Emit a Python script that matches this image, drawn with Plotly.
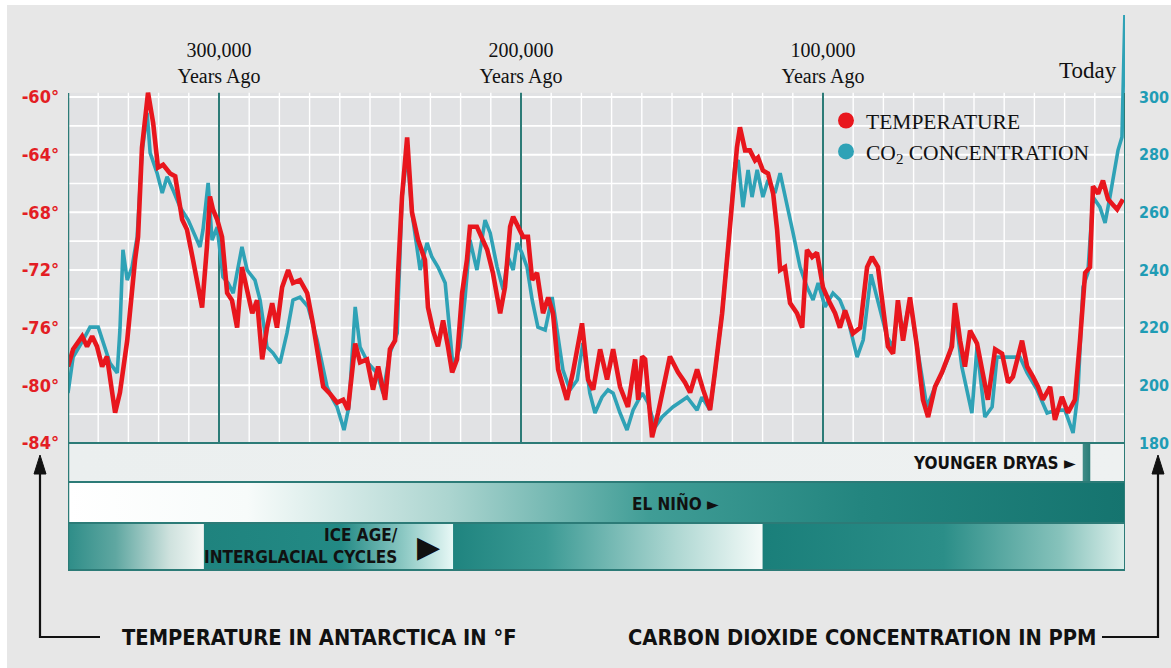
import plotly.graph_objects as go

# ---------------- data ----------------
temp_years_ago = [350.0, 348.3, 345.3, 343.7, 342.0, 340.4, 338.7, 337.1, 334.4, 332.8,
                  330.4, 328.8, 327.8, 326.8, 325.5, 323.5, 321.8, 320.2, 318.5, 316.2,
                  314.5, 312.2, 310.6, 308.6, 305.6, 304.0, 303.0, 302.0, 300.6, 299.0,
                  297.3, 295.7, 294.0, 292.4, 290.7, 289.0, 287.4, 285.7, 284.1, 282.4,
                  280.8, 279.1, 277.1, 275.5, 273.2, 270.8, 268.9, 265.5, 263.2, 260.9,
                  258.9, 257.3, 254.9, 253.3, 251.0, 249.0, 247.3, 245.0, 243.4, 241.7,
                  240.7, 239.4, 237.7, 236.1, 234.1, 231.8, 230.8, 229.1, 227.5, 225.8,
                  224.2, 222.8, 221.2, 219.5, 217.9, 216.9, 214.6, 212.9, 211.2, 209.3,
                  206.9, 205.3, 203.6, 202.6, 201.0, 199.3, 197.7, 196.3, 194.7, 192.7,
                  191.0, 189.4, 187.7, 184.8, 182.8, 179.8, 177.8, 176.1, 173.8, 171.5,
                  169.5, 167.2, 164.6, 162.2, 161.2, 159.9, 158.9, 156.6, 154.6, 152.3,
                  150.7, 148.0, 145.7, 144.0, 141.7, 139.7, 137.4, 135.8, 133.4, 131.4,
                  129.8, 128.5, 127.5, 125.8, 124.2, 122.5, 121.5, 119.9, 118.2, 116.5,
                  115.2, 114.2, 112.6, 110.9, 108.6, 106.9, 105.3, 103.6, 102.0, 100.0,
                  97.7, 96.0, 94.4, 92.7, 90.1, 87.7, 85.4, 83.8, 81.8, 80.1,
                  78.5, 76.8, 75.2, 73.5, 71.2, 68.9, 66.9, 65.2, 62.9, 60.6,
                  58.6, 57.3, 56.3, 54.6, 53.0, 51.3, 49.0, 47.3, 45.4, 43.0,
                  40.7, 38.7, 37.1, 34.1, 32.4, 30.5, 28.8, 27.2, 24.8, 23.2,
                  20.9, 18.9, 16.6, 14.9, 13.2, 11.6, 10.6, 8.9, 7.3, 5.6,
                  2.6, 0.7]
temp_f = [-78.7, -77.5, -76.6, -77.3, -76.6, -77.3, -78.7, -78.0, -81.9, -80.5,
          -76.9, -73.2, -71.3, -69.7, -63.5, -59.7, -61.8, -64.9, -64.7, -65.3,
          -65.5, -68.5, -69.2, -71.3, -74.6, -70.4, -66.9, -67.8, -68.5, -69.7,
          -73.6, -74.1, -76.0, -71.8, -73.6, -75.0, -74.1, -78.2, -76.0, -74.3,
          -76.0, -73.2, -72.0, -72.9, -72.7, -73.6, -75.7, -80.1, -80.6, -81.2,
          -81.0, -81.7, -77.1, -78.4, -78.2, -80.3, -78.7, -81.0, -77.5, -76.9,
          -72.2, -66.9, -62.8, -68.0, -69.9, -71.3, -74.6, -76.2, -77.3, -75.5,
          -77.3, -79.1, -78.2, -73.6, -71.3, -69.0, -69.0, -69.9, -70.6, -72.2,
          -75.0, -73.2, -69.0, -68.3, -69.0, -69.7, -69.7, -72.7, -72.2, -75.0,
          -73.9, -75.0, -78.9, -81.0, -79.1, -75.7, -79.6, -80.3, -77.5, -79.6,
          -77.5, -80.1, -81.5, -78.2, -81.0, -78.0, -78.2, -83.6, -81.9, -79.6,
          -78.0, -79.1, -79.8, -80.5, -78.9, -80.3, -81.7, -79.1, -75.0, -70.4,
          -66.2, -63.5, -62.1, -63.7, -63.7, -64.4, -64.2, -65.1, -65.3, -66.7,
          -69.2, -72.0, -71.8, -74.3, -75.0, -76.0, -70.6, -71.1, -70.8, -73.2,
          -74.3, -75.0, -76.0, -74.8, -76.4, -76.0, -71.8, -71.1, -71.8, -74.6,
          -77.3, -77.8, -74.1, -76.9, -73.9, -77.3, -81.0, -82.2, -80.1, -79.1,
          -78.0, -77.3, -74.3, -76.9, -78.7, -76.2, -77.1, -79.1, -81.0, -77.5,
          -77.8, -79.8, -79.4, -76.9, -78.7, -79.4, -80.1, -81.0, -80.1, -82.4,
          -80.8, -81.9, -81.0, -76.9, -72.2, -71.8, -66.2, -66.7, -65.8, -67.1,
          -67.8, -67.1]

co2_years_ago = [350.0, 348.3, 345.0, 342.7, 340.0, 338.4, 336.1, 333.7, 332.8, 331.8,
                 330.4, 328.8, 327.1, 325.5, 323.8, 322.8, 320.5, 318.8, 317.2, 315.2,
                 312.9, 310.2, 307.9, 306.3, 305.3, 303.6, 302.3, 300.6, 298.7, 297.0,
                 295.3, 292.4, 290.7, 288.1, 286.4, 284.1, 282.1, 279.8, 277.5, 275.5,
                 273.2, 270.5, 267.5, 264.2, 262.2, 260.9, 258.6, 257.0, 254.9, 253.3,
                 250.6, 247.7, 245.7, 243.4, 241.0, 239.4, 237.7, 236.1, 233.4, 231.1,
                 229.5, 227.5, 225.1, 224.2, 222.5, 220.2, 218.5, 216.9, 214.6, 211.9,
                 210.2, 207.9, 205.9, 204.3, 202.6, 201.3, 199.7, 198.0, 196.3, 194.4,
                 192.0, 189.7, 188.1, 186.1, 183.8, 181.4, 179.5, 177.2, 175.5, 173.2,
                 171.2, 169.5, 167.2, 164.9, 162.9, 159.9, 157.9, 155.6, 153.3, 149.7,
                 145.0, 141.7, 140.1, 137.4, 135.8, 133.4, 131.4, 129.1, 128.1, 126.5,
                 124.8, 123.5, 121.8, 119.9, 118.2, 115.9, 114.2, 111.9, 109.9, 107.6,
                 105.3, 103.3, 101.6, 99.3, 96.7, 94.4, 91.7, 88.7, 86.7, 84.1,
                 82.1, 78.8, 76.8, 75.2, 73.5, 71.2, 68.5, 65.6, 62.9, 60.6,
                 57.9, 56.3, 54.0, 50.7, 49.0, 46.4, 44.0, 42.4, 39.7, 34.8,
                 32.4, 29.1, 25.8, 22.5, 19.9, 17.2, 15.6, 13.9, 12.3, 10.6,
                 8.3, 6.6, 5.0, 2.3, 1.0, 0.0]
co2_ppm = [197.3, 209.8, 215.7, 220.2, 220.2, 214.7, 207.7, 204.3, 219.2, 247.0,
           236.5, 241.0, 251.4, 280.6, 294.5, 280.6, 273.6, 266.7, 272.3, 267.7,
           261.8, 257.3, 251.4, 248.0, 253.9, 270.2, 250.4, 254.9, 237.6, 235.5,
           232.0, 248.0, 240.0, 236.5, 229.6, 213.3, 211.2, 207.7, 218.1, 229.6,
           230.6, 227.2, 215.7, 199.4, 194.9, 192.5, 184.5, 192.5, 227.2, 213.3,
           207.7, 204.3, 197.3, 211.2, 218.1, 265.3, 280.6, 259.8, 240.0, 249.4,
           244.5, 241.0, 235.5, 225.1, 206.3, 213.3, 230.6, 250.4, 240.0, 257.3,
           252.8, 241.0, 233.1, 244.5, 240.0, 249.4, 245.9, 241.0, 229.6, 220.2,
           219.2, 230.6, 219.2, 205.3, 198.4, 201.8, 214.7, 197.3, 190.4, 195.9,
           198.4, 197.3, 190.4, 184.5, 191.4, 197.3, 193.9, 185.5, 189.0, 192.5,
           195.9, 191.4, 195.9, 191.4, 204.3, 225.1, 248.0, 277.1, 278.1, 261.8,
           274.7, 265.3, 274.7, 265.3, 271.2, 266.7, 273.6, 263.2, 252.8, 241.0,
           234.1, 229.6, 235.5, 227.2, 232.0, 229.6, 222.6, 209.8, 215.7, 238.5,
           230.0, 216.8, 213.3, 227.2, 218.1, 229.6, 211.2, 192.5, 199.4, 204.3,
           211.2, 225.1, 206.3, 190.4, 213.3, 189.0, 192.5, 209.8, 209.8, 209.8,
           204.3, 198.4, 190.4, 191.4, 191.4, 183.5, 197.3, 234.1, 239.0, 265.3,
           261.8, 256.3, 265.3, 281.6, 286.1, 330.0]

x_tick_years = [300000, 200000, 100000]
x_tick_text = ["300,000<br>Years Ago", "200,000<br>Years Ago", "100,000<br>Years Ago"]
temp_ticks = [-60, -64, -68, -72, -76, -80, -84]
co2_ticks = [180, 200, 220, 240, 260, 280, 300]

ice_age_bounds = [350000, 305000, 222500, 120000, 0]   # years ago
younger_dryas_span = [14000, 11500]                      # years ago

# ---------------- layout constants ----------------
W, H = 1171, 668
ML, MR, MT, MB = 68, 46, 15, 98
PX0, PX1, PY0, PY1 = ML, W - MR, MT, H - MB          # plot area in px
BAND_TOP_PX = 443
band_frac = (PY1 - BAND_TOP_PX) / (PY1 - PY0)
px_per_deg = (443 - 97) / 24.0
temp_top = -84 + (BAND_TOP_PX - PY0) / px_per_deg
PPM_PER_DEG = 5.0
co2_range = [180, 180 + (temp_top + 84) * PPM_PER_DEG]
panel_top_ppm = 301.5

def t2c(t):
    return 180 + (t + 84) * PPM_PER_DEG

def xp(px):
    return (px - PX0) / (PX1 - PX0)

def yp(py):
    return (PY1 - py) / (PY1 - PY0)

RED = "#e8161d"
TEAL = "#2fa2b6"
DARK = "#2c7b77"
NARROW = "Liberation Sans Narrow, DejaVu Sans Condensed, Arial Narrow, Liberation Sans, sans-serif"
SERIF = "Liberation Serif, DejaVu Serif, serif"

x_years_temp = [v * 1000 for v in temp_years_ago]
x_years_co2 = [v * 1000 for v in co2_years_ago]

fig = go.Figure()

# ---------------- bands (timeline) ----------------
def band(x0, x1, y0, y1, cs):
    return go.Scatter(x=[x0, x1, x1, x0, x0], y=[y0, y0, y1, y1, y0], xaxis="x", yaxis="y3",
                      mode="lines", line=dict(width=0), fill="toself",
                      fillgradient=dict(type="horizontal", colorscale=cs, start=x0, stop=x1),
                      hoverinfo="skip", showlegend=False)

ice_scales = [
    [[0, "#2e8d88"], [0.35, "#5fa7a1"], [0.75, "#cfe2de"], [1, "#f4f8f6"]],
    [[0, "#1f837e"], [0.55, "#238a85"], [0.82, "#94cdc8"], [1, "#e8f8f6"]],
    [[0, "#1f847f"], [0.3, "#3b9a94"], [0.72, "#aed7d2"], [1, "#f5fbf9"]],
    [[0, "#1a7f7a"], [0.5, "#2b8e88"], [0.82, "#86c2bb"], [1, "#dcefeb"]],
]
for i in range(4):
    fig.add_trace(band(ice_age_bounds[i], ice_age_bounds[i + 1], 0, 47, ice_scales[i]))
fig.add_trace(band(350000, 0, 48, 88,
                   [[0, "#ffffff"], [0.17, "#f7fbfa"], [0.36, "#acd5d0"], [0.55, "#409d96"],
                    [0.75, "#23857f"], [1, "#15746f"]]))
fig.add_trace(band(350000, 0, 88, 127, [[0, "#ebefef"], [1, "#eef1f1"]]))
fig.add_trace(band(younger_dryas_span[0], younger_dryas_span[1], 88, 127,
                   [[0, "#3f8c87"], [1, "#2a7c77"]]))

# ---------------- series ----------------
fig.add_trace(go.Scatter(x=x_years_co2, y=co2_ppm, yaxis="y", xaxis="x", mode="lines",
                         line=dict(color=TEAL, width=3.6), name="CO2", showlegend=False,
                         hovertemplate="%{x} yrs ago: %{y} ppm<extra></extra>"))
fig.add_trace(go.Scatter(x=x_years_temp, y=temp_f, yaxis="y2", xaxis="x", mode="lines",
                         line=dict(color=RED, width=4.6), name="Temperature", showlegend=False,
                         hovertemplate="%{x} yrs ago: %{y}°F<extra></extra>"))
# legend entries
fig.add_trace(go.Scatter(x=[None], y=[None], yaxis="y", mode="markers",
                         marker=dict(color=RED, size=17), name="TEMPERATURE"))
fig.add_trace(go.Scatter(x=[None], y=[None], yaxis="y", mode="markers",
                         marker=dict(color=TEAL, size=17), name="CO<sub>2</sub> CONCENTRATION"))

# ---------------- shapes: panel, grid, frame ----------------
shapes = []
shapes.append(dict(type="rect", xref="x", yref="y", x0=350000, x1=0, y0=180, y1=panel_top_ppm,
                   fillcolor="#e1e2e4", line=dict(width=0), layer="below"))
for t in range(-82, -59, 2):
    shapes.append(dict(type="line", xref="x", yref="y", x0=350000, x1=0, y0=t2c(t), y1=t2c(t),
                       line=dict(color="#ffffff", width=2 if t % 4 == 0 else 1.6), layer="below"))
for yr in range(340000, 0, -10000):
    shapes.append(dict(type="line", xref="x", yref="y", x0=yr, x1=yr, y0=180, y1=panel_top_ppm,
                       line=dict(color="#ffffff", width=1.4), layer="below"))
for yr in x_tick_years:
    shapes.append(dict(type="line", xref="x", yref="y", x0=yr, x1=yr, y0=180, y1=panel_top_ppm,
                       line=dict(color=DARK, width=2), layer="below"))
# frame lines
shapes.append(dict(type="line", xref="x", yref="paper", x0=350000, x1=350000, y0=0, y1=yp(93),
                   line=dict(color=DARK, width=2.5)))
shapes.append(dict(type="line", xref="x", yref="paper", x0=0, x1=0, y0=0, y1=yp(93),
                   line=dict(color=DARK, width=2)))
for py in (443, 482, 523, 570):
    shapes.append(dict(type="line", xref="x", yref="paper", x0=350000, x1=0, y0=yp(py), y1=yp(py),
                       line=dict(color=DARK, width=2)))
# axis-name arrows (lines + heads)
shapes.append(dict(type="path", xref="paper", yref="paper",
                   path=f"M {xp(100)},{yp(637)} L {xp(40)},{yp(637)} L {xp(40)},{yp(468)}",
                   line=dict(color="#111", width=2.2)))
shapes.append(dict(type="path", xref="paper", yref="paper",
                   path=f"M {xp(1102)},{yp(637)} L {xp(1158)},{yp(637)} L {xp(1158)},{yp(468)}",
                   line=dict(color="#111", width=2.2)))
for axp in (40, 1158):
    shapes.append(dict(type="path", xref="paper", yref="paper",
                       path=(f"M {xp(axp)},{yp(455)} L {xp(axp - 6)},{yp(474)} "
                             f"L {xp(axp + 6)},{yp(474)} Z"),
                       fillcolor="#111", line=dict(color="#111", width=1)))
# white outer strips of the scan
shapes.append(dict(type="rect", xref="paper", yref="paper", x0=xp(0), x1=xp(W), y0=yp(5), y1=yp(0),
                   fillcolor="white", line=dict(width=0)))
shapes.append(dict(type="rect", xref="paper", yref="paper", x0=xp(0), x1=xp(7), y0=yp(H), y1=yp(0),
                   fillcolor="white", line=dict(width=0)))

# ---------------- annotations ----------------
ann = []
ann.append(dict(xref="paper", yref="paper", x=xp(1119), y=yp(70), text="Today", showarrow=False,
                xanchor="right", yanchor="middle", font=dict(family=SERIF, size=23, color="#111")))
ann.append(dict(xref="paper", yref="paper", x=xp(120), y=yp(637),
                text="<b>TEMPERATURE IN ANTARCTICA IN °F</b>", showarrow=False,
                xanchor="left", yanchor="middle", font=dict(family=NARROW, size=21.7, color="#111")))
ann.append(dict(xref="paper", yref="paper", x=xp(626), y=yp(637),
                text="<b>CARBON DIOXIDE CONCENTRATION IN PPM</b>", showarrow=False,
                xanchor="left", yanchor="middle", font=dict(family=NARROW, size=21.7, color="#111")))
ann.append(dict(xref="paper", yref="paper", x=xp(1078), y=yp(463),
                text="<b>YOUNGER DRYAS ►</b>", showarrow=False,
                xanchor="right", yanchor="middle", font=dict(family=NARROW, size=17, color="#111")))
ann.append(dict(xref="paper", yref="paper", x=xp(630), y=yp(503),
                text="<b>EL NIÑO ►</b>", showarrow=False,
                xanchor="left", yanchor="middle", font=dict(family=NARROW, size=17, color="#111")))
ann.append(dict(xref="paper", yref="paper", x=xp(400), y=yp(546),
                text="<b>ICE AGE/<br>INTERGLACIAL CYCLES</b>", showarrow=False, align="right",
                xanchor="right", yanchor="middle", font=dict(family=NARROW, size=17, color="#111")))
ann.append(dict(xref="paper", yref="paper", x=xp(428), y=yp(546), text="▶", showarrow=False,
                xanchor="center", yanchor="middle", font=dict(family="DejaVu Sans", size=30, color="#111")))

fig.update_layout(
    width=W, height=H,
    margin=dict(l=ML, r=MR, t=MT, b=MB, autoexpand=False),
    paper_bgcolor="#e7e7e7", plot_bgcolor="rgba(0,0,0,0)",
    showlegend=True,
    legend=dict(x=xp(826), y=yp(100), xanchor="left", yanchor="top",
                bgcolor="rgba(0,0,0,0)", font=dict(family=SERIF, size=21.5, color="#111"),
                itemwidth=30, tracegroupgap=0),
    xaxis=dict(range=[350000, 0], domain=[0, 1], anchor="free", position=yp(87), side="top",
               tickvals=x_tick_years, ticktext=x_tick_text, ticks="", showgrid=False,
               zeroline=False, showline=False, automargin=False,
               tickfont=dict(family=SERIF, size=20, color="#111")),
    yaxis=dict(range=co2_range, domain=[band_frac, 1], side="right", anchor="x",
               tickvals=co2_ticks, ticktext=[str(v) for v in co2_ticks], showgrid=False,
               zeroline=False, showline=False, ticks="", ticklabelstandoff=13, automargin=False,
               tickfont=dict(family=NARROW, size=16, color="#1f9cb5", weight="bold")),
    yaxis2=dict(range=[-84, temp_top], overlaying="y", side="left", anchor="x",
                tickvals=temp_ticks, ticktext=[f"{v}°" for v in temp_ticks], showgrid=False,
                zeroline=False, showline=False, ticks="", ticklabelstandoff=8, automargin=False,
                tickfont=dict(family=NARROW, size=18, color="#e31e24", weight="bold")),
    yaxis3=dict(range=[0, 127], domain=[0, band_frac], anchor="x", visible=False,
                showgrid=False, zeroline=False),
    shapes=shapes, annotations=ann,
)

fig.write_html("out.html", config={"displayModeBar": False},
               post_script="document.body.style.margin='0px';document.body.style.overflow='hidden';")
